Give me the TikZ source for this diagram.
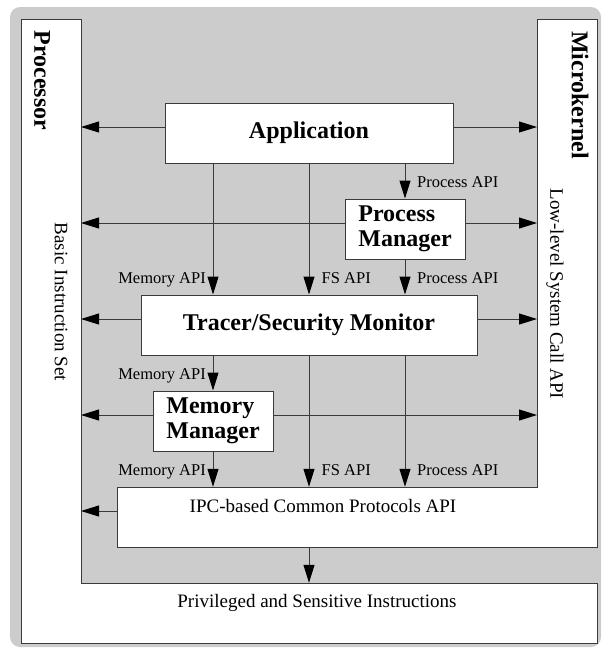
\documentclass[tikz,border=0pt]{standalone}
\usepackage{fontspec}
\setmainfont{Liberation Serif}
\usetikzlibrary{arrows.meta}
\definecolor{bggray}{HTML}{CCCCCC}
\definecolor{linec}{HTML}{3A3A3A}
\tikzset{
  box/.style={draw=linec, fill=white, line width=1pt, inner sep=0pt,
    font=\fontsize{24}{25}\selectfont\bfseries, align=left},
  region/.style={inner sep=0pt},
  arr/.style={draw=linec, line width=1pt, -{Triangle[length=18pt,width=11pt,black]}},
  ln/.style={draw=linec, line width=1pt},
  lbl/.style={font=\fontsize{16.5}{18}\selectfont, inner sep=0pt},
  big/.style={font=\fontsize{19}{21}\selectfont, inner sep=0pt},
  title/.style={font=\fontsize{24}{25}\selectfont\bfseries, inner sep=0pt, rotate=-90},
  side/.style={font=\fontsize{19}{21}\selectfont, inner sep=0pt, rotate=-90},
}
\begin{document}
\begin{tikzpicture}[x=1pt,y=-1pt]
\useasboundingbox (0,0) rectangle (604,648);
\fill[bggray, rounded corners=10pt] (10,7) rectangle (601,647);
% white regions
\draw[ln, fill=white] (21,19) -- (81,19) -- (81,583) -- (597,583) -- (597,643) -- (21,643) -- cycle;
\draw[ln, fill=white] (537,19) -- (597,19) -- (597,547) -- (117,547) -- (117,487) -- (537,487) -- cycle;
\coordinate (pe) at (81,0);
\coordinate (me) at (537,0);
\coordinate (cM) at (213,0);
\coordinate (cF) at (309,0);
\coordinate (cP) at (405,0);
% region nodes
\node[region, minimum width=480, minimum height=60] (ipc) at (357,517) {};
\node[region, minimum width=576, minimum height=60] (priv) at (309,613) {};
% titles
\node[title] (proc) at (42,80.5) {Processor};
\node[title] (mk) at (580,95) {Microkernel};
\node[side] (bis) at (61,302) {Basic Instruction Set};
\node[side] (llsc) at (555,294) {Low-level System Call API};
\node[big, anchor=base] (ipct) at (323,512) {IPC-based Common Protocols API};
\node[big, anchor=base] (privt) at (317,607) {Privileged and Sensitive Instructions};
% boxes
\node[box, minimum width=288, minimum height=60] (app) at (309,133) {Application};
\node[box, minimum width=120, minimum height=60] (pm) at (405,229) {Process\\Manager};
\node[box, minimum width=336, minimum height=60] (tr) at (309,325) {Tracer/Security Monitor};
\node[box, minimum width=120, minimum height=60] (mm) at (213,421) {Memory\\Manager};
% horizontal arrows
\draw[arr] ([yshift=6pt]app.west) -- ([yshift=6pt]app.west -| pe);
\draw[arr] ([yshift=6pt]app.east) -- ([yshift=6pt]app.east -| me);
\draw[arr] ([yshift=6pt]pm.west) -- ([yshift=6pt]pm.west -| pe);
\draw[arr] ([yshift=6pt]pm.east) -- ([yshift=6pt]pm.east -| me);
\draw[arr] ([yshift=6pt]tr.west) -- ([yshift=6pt]tr.west -| pe);
\draw[arr] ([yshift=6pt]tr.east) -- ([yshift=6pt]tr.east -| me);
\draw[arr] ([yshift=6pt]mm.west) -- ([yshift=6pt]mm.west -| pe);
\draw[arr] ([yshift=6pt]mm.east) -- ([yshift=6pt]mm.east -| me);
\draw[arr] ([yshift=6pt]ipc.west) -- ([yshift=6pt]ipc.west -| pe);
% vertical arrows
\draw[arr] (app.south -| cM) -- (tr.north -| cM);
\draw[arr] (app.south -| cF) -- (tr.north -| cF);
\draw[arr] (app.south -| cP) -- (pm.north);
\draw[arr] (pm.south) -- (tr.north -| cP);
\draw[arr] (tr.south -| cM) -- (mm.north);
\draw[arr] (mm.south) -- (ipc.north -| cM);
\draw[arr] (tr.south -| cF) -- (ipc.north -| cF);
\draw[arr] (tr.south -| cP) -- (ipc.north -| cP);
\draw[arr] (ipc.south -| cF) -- (priv.north -| cF);
% labels
\node[lbl, anchor=base west] (l1) at (417,187) {Process API};
\node[lbl, anchor=base east] (l2) at (206,283.5) {Memory API};
\node[lbl, anchor=base west] (l3) at (321.5,283.5) {FS API};
\node[lbl, anchor=base west] (l4) at (417,283.5) {Process API};
\node[lbl, anchor=base east] (l5) at (206,379.5) {Memory API};
\node[lbl, anchor=base east] (l6) at (206,475) {Memory API};
\node[lbl, anchor=base west] (l7) at (321.5,475) {FS API};
\node[lbl, anchor=base west] (l8) at (417,475) {Process API};
\end{tikzpicture}
\end{document}
